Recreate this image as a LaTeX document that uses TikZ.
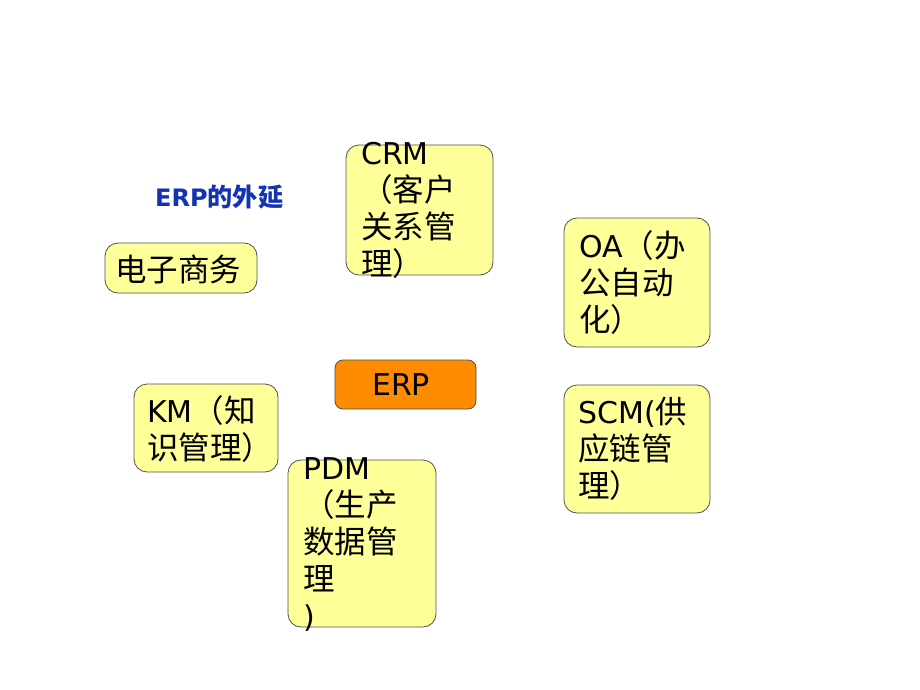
\documentclass[tikz,border=0pt]{standalone}
\usepackage{fontspec}
\setmainfont{DejaVu Sans}
\newfontfamily\cjk[Scale=1.05]{Noto Sans CJK SC}
\definecolor{boxyellow}{HTML}{FFFF99}
\definecolor{erporange}{HTML}{FF8C00}
\definecolor{titleblue}{HTML}{1433B4}
\definecolor{edge}{HTML}{505050}
\tikzset{
  box/.style={draw=edge, line width=0.8pt, rounded corners=13pt, fill=boxyellow, inner sep=0pt},
  erpbox/.style={draw=edge, line width=0.8pt, rounded corners=8pt, fill=erporange, inner sep=0pt},
  txt/.style={inner sep=0pt, align=left, font=\fontsize{30}{37}\selectfont, text=black},
}
\begin{document}
\begin{tikzpicture}[x=1pt,y=-1pt]
\useasboundingbox (0,0) rectangle (920,690);
% boxes
\node[box, minimum width=152pt, minimum height=50pt] (ecb) at (181,268) {};
\node[box, minimum width=147pt, minimum height=130pt] (crmb) at (419.5,210) {};
\node[box, minimum width=146pt, minimum height=129pt] (oab) at (637,282.5) {};
\node[erpbox, minimum width=141pt, minimum height=49pt] (erpb) at (405.5,384.5) {};
\node[box, minimum width=144pt, minimum height=88pt] (kmb) at (206,428) {};
\node[box, minimum width=146pt, minimum height=128pt] (scmb) at (637,449) {};
\node[box, minimum width=148pt, minimum height=167pt] (pdmb) at (362,543.5) {};
% title
\node[inner sep=0pt, anchor=west, text=titleblue, font=\fontsize{24}{27}\selectfont\bfseries] (title) at (155,197) {ERP{\cjk 的外延}};
% texts
\node[txt, anchor=west] (ect) at (115,269) {\cjk 电子商务};
\node[txt] (erpt) at (401,385) {ERP};
\node[txt, anchor=north west] (crmt) at (361,142) {CRM\\{\cjk （客户}\\{\cjk 关系管}\\{\cjk 理）}};
\node[txt, anchor=north west] (oat) at (579,230) {OA{\cjk （办}\\{\cjk 公自动}\\{\cjk 化）}};
\node[txt, anchor=north west] (kmt) at (147,395) {KM{\cjk （知}\\{\cjk 识管理）}};
\node[txt, anchor=north west] (scmt) at (578,397) {SCM({\cjk 供}\\{\cjk 应链管}\\{\cjk 理）}};
\node[txt, anchor=north west] (pdmt) at (303,457) {PDM\\{\cjk （生产}\\{\cjk 数据管}\\{\cjk 理}\\)};
\end{tikzpicture}
\end{document}
